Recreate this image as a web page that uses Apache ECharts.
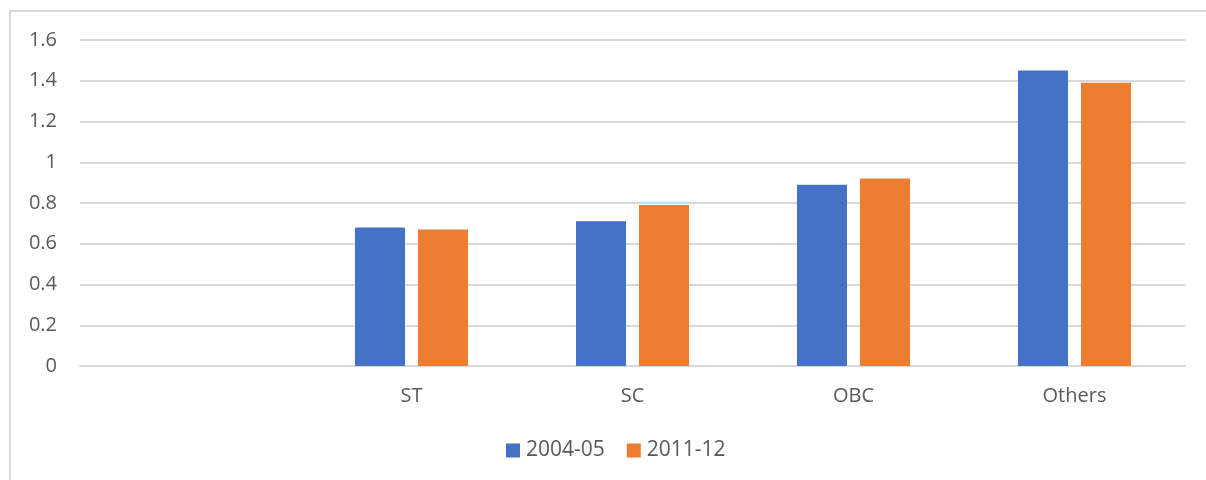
<!DOCTYPE html>
<html>
<head>
<meta charset="utf-8">
<script src="https://cdn.jsdelivr.net/npm/echarts@6/dist/echarts.min.js"></script>
<style>
  html, body { margin: 0; padding: 0; background: #fff; }
  #frame { position: absolute; left: 9px; top: 10px; width: 1197px; height: 470px; border-left: 2px solid #d9d9d9; border-top: 2px solid #d9d9d9; box-sizing: border-box; }
  #chart { position: absolute; left: 0; top: 0; width: 1206px; height: 480px; }
</style>
</head>
<body>
<div id="frame"></div>
<div id="chart"></div>
<script>
const categories = ['', 'ST', 'SC', 'OBC', 'Others'];
const series2004 = [null, 0.68, 0.71, 0.89, 1.45];
const series2011 = [null, 0.67, 0.79, 0.92, 1.39];
const seriesNames = ['2004-05', '2011-12'];
const yTicks = { min: 0, max: 1.6, interval: 0.2 };

const chart = echarts.init(document.getElementById('chart'), null, { renderer: 'canvas' });
const font = '"Open Sans", Lato, sans-serif';
chart.setOption({
  animation: false,
  grid: { left: 80, right: 21, top: 40, bottom: 114, containLabel: false },
  legend: {
    top: 440, left: 506, padding: 0,
    itemWidth: 14, itemHeight: 14, itemGap: 22,
    icon: 'rect',
    textStyle: { fontFamily: font, fontSize: 21, color: '#595959', padding: [0, 0, 0, 1] },
    data: seriesNames
  },
  xAxis: {
    type: 'category',
    data: categories,
    axisLine: { lineStyle: { color: '#d9d9d9', width: 2 } },
    axisTick: { show: false },
    axisLabel: { fontFamily: font, fontSize: 20, color: '#595959', margin: 20 }
  },
  yAxis: {
    type: 'value',
    min: yTicks.min, max: yTicks.max, interval: yTicks.interval,
    axisLine: { show: false },
    axisTick: { show: false },
    splitLine: { lineStyle: { color: '#d9d9d9', width: 2 } },
    axisLabel: {
      fontFamily: font, fontSize: 20, color: '#595959', margin: 23,
      formatter: v => String(Math.round(v * 10) / 10)
    }
  },
  series: [
    { name: seriesNames[0], type: 'bar', data: series2004, barWidth: 50, barGap: '26%',
      itemStyle: { color: '#4472c4' } },
    { name: seriesNames[1], type: 'bar', data: series2011, barWidth: 50,
      itemStyle: { color: '#ed7d31' } }
  ]
});
</script>
</body>
</html>
